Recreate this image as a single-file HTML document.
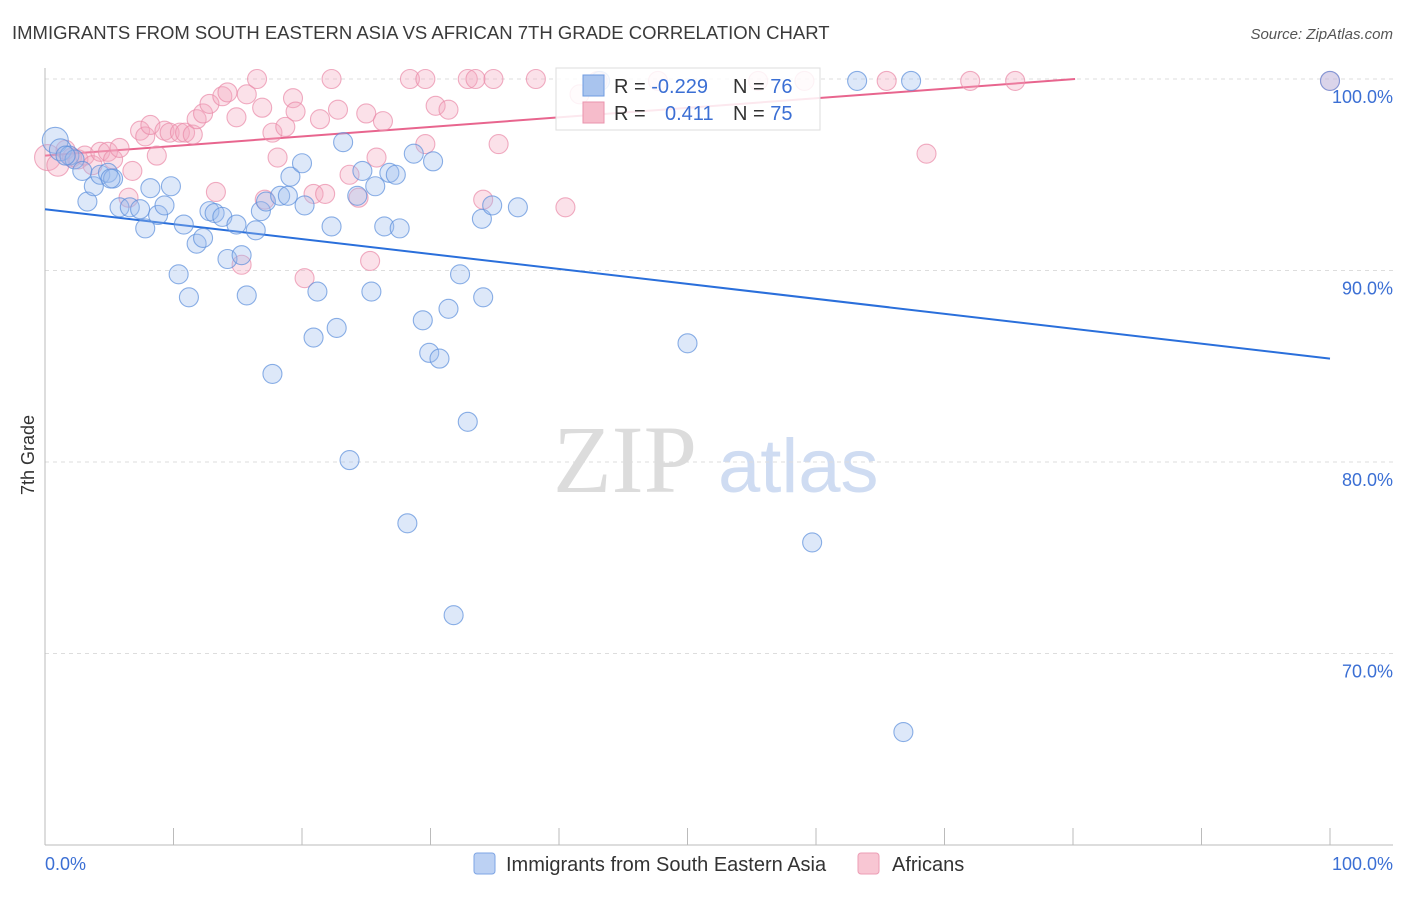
<!DOCTYPE html>
<html><head><meta charset="utf-8"><style>
body{margin:0;background:#fff;font-family:"Liberation Sans",sans-serif;}
</style></head><body>
<svg id="chart" width="1406" height="892" xmlns="http://www.w3.org/2000/svg" font-family="Liberation Sans, sans-serif">
<text x="12" y="39" font-size="18.5" fill="#3a3a3a">IMMIGRANTS FROM SOUTH EASTERN ASIA VS AFRICAN 7TH GRADE CORRELATION CHART</text>
<text x="1393" y="39" font-size="15" fill="#555" font-style="italic" text-anchor="end">Source: ZipAtlas.com</text>
<g>
<text x="553" y="492" font-size="96" font-family="Liberation Serif, serif" fill="#dcdcdc">ZIP</text>
<text x="718" y="492" font-size="76" fill="#cfdcf2">atlas</text>
</g>
<g id="grid"></g>
<g id="axes"></g>
<g id="lines"></g>
<g id="pts"></g>
<text transform="translate(34,455) rotate(-90)" font-size="18" fill="#333" text-anchor="middle">7th Grade</text>
<g>
<rect x="556" y="68" width="264" height="62" fill="#fff" fill-opacity="0.85" stroke="#ddd"/>
<rect x="583" y="75" width="21" height="21" fill="#a9c4ee" stroke="#6f9be0"/>
<rect x="583" y="102" width="21" height="21" fill="#f6bccb" stroke="#ea93ad"/>
<text x="614" y="93" font-size="20" fill="#333">R = <tspan fill="#3b6fd4">-0.229</tspan></text>
<text x="733" y="93" font-size="20" fill="#333">N = <tspan fill="#3b6fd4">76</tspan></text>
<text x="614" y="120" font-size="20" fill="#333">R = <tspan fill="#3b6fd4" x="665">0.411</tspan></text>
<text x="733" y="120" font-size="20" fill="#333">N = <tspan fill="#3b6fd4">75</tspan></text>
</g>
<g>
<rect x="474" y="853" width="21" height="21" rx="3" fill="#bcd1f3" stroke="#7ea5e4"/>
<text x="506" y="871" font-size="20" fill="#333">Immigrants from South Eastern Asia</text>
<rect x="858" y="853" width="21" height="21" rx="3" fill="#f8c6d3" stroke="#ec9db5"/>
<text x="892" y="871" font-size="20" fill="#333">Africans</text>
</g>
</svg>
<script>
const yTicks=[100,90,80,70];
const xTickLabels=["0.0%","100.0%"];
const blueX=[0.8,1.2,1.9,2.3,2.9,3.3,3.8,4.3,4.9,5.3,5.8,6.6,7.4,7.8,8.2,8.8,9.3,9.8,10.4,10.8,11.2,11.8,12.3,12.8,13.2,13.8,14.2,14.9,15.3,15.7,16.4,16.8,17.2,17.7,18.3,18.9,19.1,20.0,20.2,20.9,21.2,22.3,22.7,23.2,23.7,24.3,24.7,25.4,25.7,26.4,26.8,27.3,27.6,28.2,28.7,29.4,29.9,30.2,30.7,31.4,31.8,32.3,32.9,34.0,34.1,34.8,36.8,43.2,50.0,59.7,63.2,66.8,67.4,100,1.6,5.1];
const blueY=[96.8,96.3,96.0,95.8,95.2,93.6,94.4,95.0,95.1,94.8,93.3,93.3,93.2,92.2,94.3,92.9,93.4,94.4,89.8,92.4,88.6,91.4,91.7,93.1,93.0,92.8,90.6,92.4,90.8,88.7,92.1,93.1,93.6,84.6,93.9,93.9,94.9,95.6,93.4,86.5,88.9,92.3,87.0,96.7,80.1,93.9,95.2,88.9,94.4,92.3,95.1,95.0,92.2,76.8,96.1,87.4,85.7,95.7,85.4,88.0,72.0,89.8,82.1,92.7,88.6,93.4,93.3,99.9,86.2,75.8,99.9,65.9,99.9,99.9,96.0,94.8];
const pinkX=[0.2,1.0,1.6,2.1,2.6,3.1,3.7,4.3,4.9,5.3,5.8,6.5,6.8,7.4,7.8,8.2,8.7,9.3,9.7,10.5,10.9,11.5,11.8,12.3,12.8,13.3,13.8,14.2,14.9,15.3,15.7,16.5,16.9,17.1,17.7,18.1,18.7,19.3,19.5,20.2,20.9,21.4,21.8,22.3,22.8,23.7,24.4,25.0,25.3,25.8,26.3,28.4,29.6,29.6,30.4,31.4,32.9,33.5,34.1,34.9,35.3,38.2,40.5,41.6,43.0,47.7,55.5,59.1,65.5,68.6,72.0,75.5,100];
const pinkY=[95.9,95.5,96.3,95.9,95.8,96.0,95.5,96.2,96.2,95.8,96.4,93.8,95.2,97.3,97.0,97.6,96.0,97.3,97.2,97.2,97.2,97.1,97.9,98.2,98.7,94.1,99.1,99.3,98.0,90.3,99.2,100,98.5,93.7,97.2,95.9,97.5,99.0,98.3,89.6,94.0,97.9,94.0,100,98.4,95.0,93.8,98.2,90.5,95.9,97.8,100,100,96.6,98.6,98.4,100,100,93.7,100,96.6,100,93.3,99.2,99.9,99.9,99.9,99.9,99.9,96.1,99.9,99.9,99.9];
const blueTrend=[93.2,85.4];
const pinkTrend=[96.0,100.99];
const NS="http://www.w3.org/2000/svg";
const X=v=>45+v*12.85, Y=v=>79+(100-v)*19.15;
function mk(tag,attrs,parent){const e=document.createElementNS(NS,tag);for(const k in attrs)e.setAttribute(k,attrs[k]);document.getElementById(parent).appendChild(e);return e;}
yTicks.forEach(t=>{
 const l=mk('line',{x1:45,x2:1393,y1:Y(t),y2:Y(t),stroke:'#ddd','stroke-dasharray':'4,4'},'grid');
 
 
 const tx=mk('text',{x:1393,y:Y(t)+24,'font-size':18,fill:'#3b6fd4','text-anchor':'end'},'grid');
 tx.textContent=t.toFixed(1)+'%';
 
 
});
const ax=mk('line',{x1:45,x2:45,y1:68,y2:845,stroke:'#bbb'},'axes');


const bx=mk('line',{x1:45,x2:1393,y1:845,y2:845,stroke:'#bbb'},'axes');


for(let i=0;i<=10;i++){const t=mk('line',{x1:X(i*10),x2:X(i*10),y1:828,y2:845,stroke:'#bbb'},'axes');
 
 }
const l0=mk('text',{x:45,y:870,'font-size':18,fill:'#3b6fd4'},'axes');l0.textContent=xTickLabels[0];


const l1=mk('text',{x:1393,y:870,'font-size':18,fill:'#3b6fd4','text-anchor':'end'},'axes');l1.textContent=xTickLabels[1];


function pts(xs,ys,fill,stroke,name){xs.forEach((x,i)=>{const r=i<2?(i==0?13:11):9.5;
 const c=mk('circle',{cx:X(x),cy:Y(ys[i]),r:r,fill:fill,'fill-opacity':0.35,stroke:stroke,'stroke-opacity':0.7,'stroke-width':1.1},'pts');
 
 });}
pts(pinkX,pinkY,'#f4a8bf','#e98aa8','point-africans');
pts(blueX,blueY,'#9dbdee','#5b8fdb','point-asia');
const bl=mk('line',{x1:X(0),y1:Y(blueTrend[0]),x2:X(100),y2:Y(blueTrend[1]),stroke:'#2a6fdb','stroke-width':2},'lines');


const xEnd=Math.min(100,(100-pinkTrend[0])/(pinkTrend[1]-pinkTrend[0])*100);
const yEnd=pinkTrend[0]+(pinkTrend[1]-pinkTrend[0])*xEnd/100;
const pl=mk('line',{x1:X(0),y1:Y(pinkTrend[0]),x2:X(xEnd),y2:Y(yEnd),stroke:'#e8658e','stroke-width':2},'lines');


</script>
</body></html>
